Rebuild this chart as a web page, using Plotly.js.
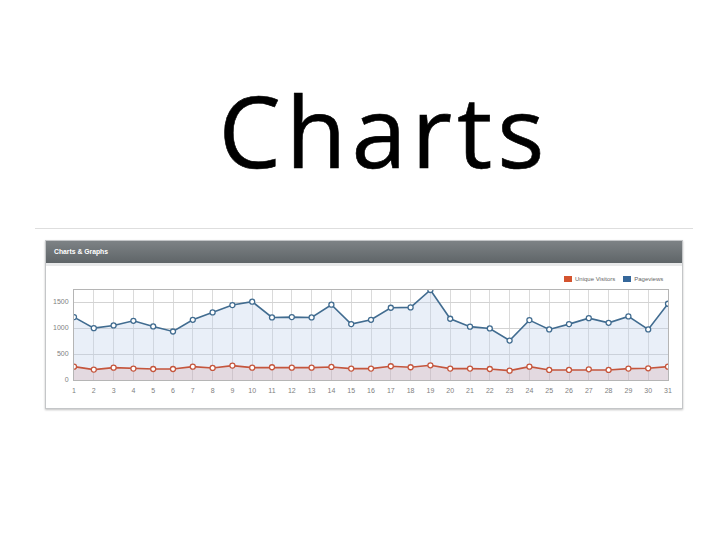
<!DOCTYPE html>
<html>
<head>
<meta charset="utf-8">
<script src="https://cdn.plot.ly/plotly-3.0.1.min.js"></script>
<style>
  body { margin: 0; width: 728px; height: 546px; background: #fff; overflow: hidden; position: relative; }
  #title { position: absolute; left: 0; width: 688px; padding-left: 40px; top: 65px; text-align: center;
           font-family: "Open Sans", sans-serif; font-size: 99px; line-height: 130px;
           letter-spacing: 5px; color: #000; -webkit-text-stroke: 0.6px #000; }
  #rule { position: absolute; left: 35px; top: 228px; width: 658px; height: 1px; background: #dedede; }
  #panel { position: absolute; left: 45px; top: 240px; width: 636px; height: 167px;
           border: 1px solid #c4c6c8; box-shadow: 0 1px 2px rgba(0,0,0,0.25); background: #fff; }
  #panel .head { height: 22px; background: linear-gradient(#7d8285, #5f6568);
                 color: #fff; font: bold 6.8px "Liberation Sans", Arial, sans-serif;
                 line-height: 22px; padding-left: 8px; }
  #panel .strip { height: 3px; background: #e8e9ea; }
  #legend { position: absolute; top: 275px; left: 564px; font: 6px "Liberation Sans", Arial, sans-serif;
            color: #666; white-space: nowrap; line-height: 8px; }
  #legend .sw { display: inline-block; width: 8px; height: 6px; vertical-align: -1px; margin-right: 3px; }
  #legend .item { margin-right: 8px; }
  #chart { position: absolute; left: 0; top: 0; }
</style>
</head>
<body>
<div id="title">Charts</div>
<div id="rule"></div>
<div id="panel"><div class="head">Charts &amp; Graphs</div><div class="strip"></div></div>
<div id="chart"></div>
<div id="legend"></div>
<script>
// days of the month
var days = [];
for (var d = 1; d <= 31; d++) { days.push(d); }

var pageviews = [1210, 997, 1049, 1139, 1030, 933, 1158, 1300, 1441, 1506,
                 1203, 1210, 1203, 1448, 1075, 1158, 1390, 1396, 1731, 1178,
                 1026, 991, 759, 1152, 972, 1075, 1190, 1100, 1223, 972, 1467];

var visitors = [257, 200, 238, 219, 212, 212, 257, 232, 277, 238,
                245, 238, 238, 251, 219, 219, 264, 245, 283, 219,
                219, 212, 180, 257, 193, 193, 206, 193, 219, 225, 257];

var y_ticks = [0, 500, 1000, 1500];
var series_names = ['Unique Visitors', 'Pageviews'];
var swatch_colors = ['#d4542f', '#35679a'];

var blue = '#416c90';
var red = '#c5563d';

// simple html legend, flot style
var legend_html = '';
for (var i = 0; i < series_names.length; i++) {
  legend_html += '<span class="item"><span class="sw" style="background:' + swatch_colors[i] + '"></span>' +
                 series_names[i] + '</span>';
}
document.getElementById('legend').innerHTML = legend_html;

var trace_pv = {
  x: days, y: pageviews,
  type: 'scatter', mode: 'lines+markers',
  fill: 'tozeroy', fillcolor: 'rgba(186,205,232,0.32)',
  line: {color: blue, width: 1.6},
  marker: {size: 5, color: '#fff', line: {color: blue, width: 1.3}},
  hoverinfo: 'skip'
};

var trace_uv = {
  x: days, y: visitors,
  type: 'scatter', mode: 'lines+markers',
  fill: 'tozeroy', fillcolor: 'rgba(205,130,130,0.2)',
  line: {color: red, width: 1.6},
  marker: {size: 5, color: '#fff', line: {color: red, width: 1.3}},
  hoverinfo: 'skip'
};

var data = [trace_pv, trace_uv];

var layout = {
  width: 728, height: 546,
  margin: {l: 74, r: 60, t: 290, b: 166, pad: 0},
  paper_bgcolor: 'rgba(0,0,0,0)',
  plot_bgcolor: 'rgba(0,0,0,0)',
  font: {family: 'Liberation Sans, Arial, sans-serif', size: 7, color: '#808080'},
  hovermode: false,
  showlegend: false,
  xaxis: {
    range: [1, 31], tickvals: days, ticktext: days.map(String),
    showgrid: true, gridcolor: '#dadada', gridwidth: 1,
    zeroline: false, showline: true, mirror: true, linecolor: '#b5b5b5', linewidth: 1,
    ticks: '', ticklabelstandoff: 4,
    tickfont: {size: 7, color: '#808080'}
  },
  yaxis: {
    range: [0, Math.max.apply(null, pageviews)],
    tickvals: y_ticks, ticktext: y_ticks.map(String),
    showgrid: true, gridcolor: '#d3d3d3', gridwidth: 1,
    zeroline: false, showline: true, mirror: true, linecolor: '#b5b5b5', linewidth: 1,
    ticks: '', ticklabelstandoff: 3,
    tickfont: {size: 7, color: '#808080'}
  }
};

Plotly.newPlot('chart', data, layout, {displayModeBar: false, staticPlot: true});
</script>
</body>
</html>
